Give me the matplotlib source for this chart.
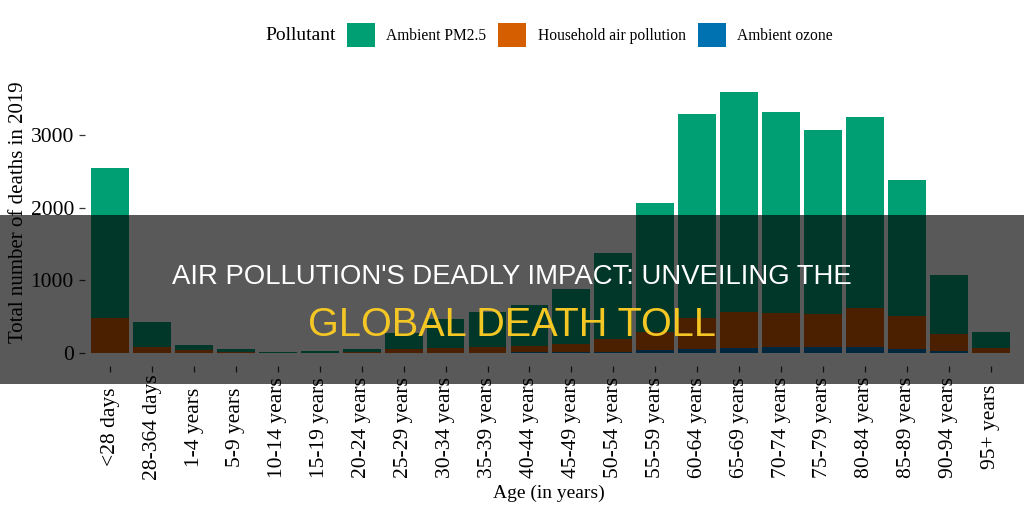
import numpy as np
import matplotlib
matplotlib.use('Agg')
import matplotlib.pyplot as plt
from matplotlib.patches import Patch, Rectangle

plt.rcParams['font.family'] = ['Liberation Serif', 'DejaVu Serif']

ages = ['<28 days', '28-364 days', '1-4 years', '5-9 years', '10-14 years',
        '15-19 years', '20-24 years', '25-29 years', '30-34 years',
        '35-39 years', '40-44 years', '45-49 years', '50-54 years',
        '55-59 years', '60-64 years', '65-69 years', '70-74 years',
        '75-79 years', '80-84 years', '85-89 years', '90-94 years', '95+ years']

# deaths by pollutant
ozone = [0, 0, 0, 0, 0, 0, 0, 2, 4, 6, 8, 12, 20, 37, 50, 70, 83, 83, 83, 50, 23, 5]
household = [475, 83, 35, 12, 3, 6, 12, 58, 66, 74, 82, 118, 170, 253, 425, 490, 462, 452, 537, 460, 237, 68]
pm25 = [2075, 347, 70, 40, 9, 16, 40, 210, 395, 480, 570, 745, 1190, 1770, 2815, 3030, 2765, 2535, 2625, 1870, 815, 217]

colors = {'Ambient PM2.5': '#009E73', 'Household air pollution': '#D55E00',
          'Ambient ozone': '#0072B2'}

fig = plt.figure(figsize=(10.24, 5.12), dpi=100)
ax = fig.add_axes([0.083, 0.285, 0.909, 0.561])

x = np.arange(len(ages))
ozone = np.array(ozone)
household = np.array(household)
pm25 = np.array(pm25)

ax.bar(x, ozone, width=0.9, color=colors['Ambient ozone'])
ax.bar(x, household, width=0.9, bottom=ozone, color=colors['Household air pollution'])
ax.bar(x, pm25, width=0.9, bottom=ozone + household, color=colors['Ambient PM2.5'])

total = ozone + household + pm25
ax.set_xlim(-0.6, len(ages) - 0.4)
ax.set_ylim(-0.05 * total.max(), total.max() * 1.05)
ax.set_yticks([0, 1000, 2000, 3000])
ax.set_xticks(x)
ax.set_xticklabels(ages, rotation=90, va='center', ha='center')
for s in ax.spines.values():
    s.set_visible(False)
ax.tick_params(axis='both', length=4, width=0.9, color='#333333', labelsize=15.5)
ax.tick_params(axis='x', pad=40)
ax.tick_params(axis='y', pad=4)

ax.set_ylabel('Total number of deaths in 2019', fontsize=15)
ax.yaxis.set_label_coords(-0.061, 0.537)
fig.text(0.536, 1 - 493 / 512, 'Age (in years)', fontsize=14, ha='center', va='center')

# legend on top
fig.text(265 / 1024, 1 - 36 / 512, 'Pollutant', fontsize=14, ha='left', va='center')
handles = [Patch(facecolor=c, label=k) for k, c in colors.items()]
fig.legend(handles=handles, loc='center', bbox_to_anchor=(0.576, 1 - 35 / 512), ncol=3,
           frameon=False, fontsize=11.2, handlelength=1.8, handleheight=2.0,
           handletextpad=0.75, columnspacing=0.75, borderpad=0)

# dark banner with headline
fig.add_artist(Rectangle((0, 1 - 384 / 512), 1, 169 / 512, transform=fig.transFigure,
                         facecolor='black', alpha=0.65, edgecolor='none', zorder=10))
fig.text(0.5, 1 - 277 / 512, "AIR POLLUTION'S DEADLY IMPACT: UNVEILING THE",
         family=['Liberation Sans', 'DejaVu Sans'], fontsize=19.8, color='white',
         ha='center', va='center', zorder=11)
fig.text(0.5, 1 - 325 / 512, 'GLOBAL DEATH TOLL',
         family=['Liberation Sans', 'DejaVu Sans'], fontsize=28.5, color='#F5C724',
         ha='center', va='center', zorder=11)

fig.savefig('out.png', dpi=100)
